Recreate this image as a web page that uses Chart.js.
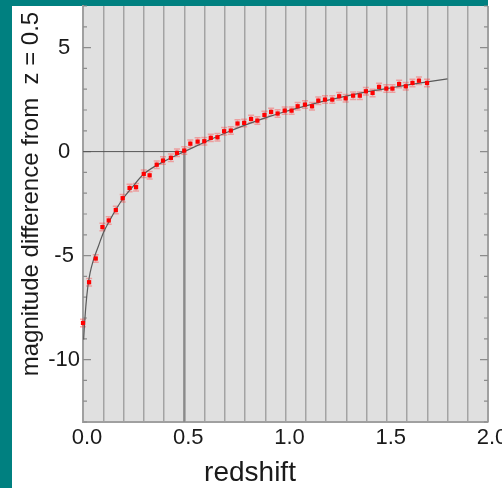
<!DOCTYPE html>
<html>
<head>
<meta charset="utf-8">
<script src="https://cdn.jsdelivr.net/npm/chart.js@4.4.1/dist/chart.umd.min.js"></script>
<style>
  html, body { margin: 0; padding: 0; background: #ffffff; }
  canvas { display: block; }
</style>
</head>
<body>
<canvas id="magChart" width="502" height="488"></canvas>
<script>
// measured points (redshift, magnitude difference from z = 0.5)
const zData = [0.0, 0.03, 0.063, 0.096, 0.127, 0.162, 0.196, 0.23, 0.262, 0.30,
    0.329, 0.364, 0.395, 0.434, 0.464, 0.50, 0.53, 0.566, 0.599, 0.631,
    0.664, 0.697, 0.73, 0.763, 0.796, 0.83, 0.861, 0.896, 0.929, 0.961,
    0.996, 1.03, 1.06, 1.096, 1.131, 1.162, 1.195, 1.231, 1.265, 1.297,
    1.334, 1.367, 1.397, 1.43, 1.462, 1.498, 1.528, 1.561, 1.594, 1.627,
    1.659, 1.699];
const magData = [-8.24, -6.28, -5.14, -3.63, -3.31, -2.81, -2.24, -1.75, -1.71, -1.07,
    -1.14, -0.63, -0.43, -0.30, -0.06, 0.05, 0.38, 0.48, 0.50, 0.66,
    0.69, 0.98, 1.01, 1.35, 1.38, 1.57, 1.49, 1.76, 1.91, 1.83,
    1.97, 1.97, 2.18, 2.26, 2.18, 2.45, 2.50, 2.50, 2.66, 2.56,
    2.69, 2.69, 2.90, 2.82, 3.11, 3.03, 3.03, 3.25, 3.14, 3.30,
    3.41, 3.30];
const magErr = 0.18;

// model curve
const zModel = [0.003, 0.007, 0.014, 0.024, 0.035, 0.052, 0.076, 0.10, 0.134, 0.167,
    0.20, 0.24, 0.30, 0.40, 0.50, 0.60, 0.70, 0.80, 0.90, 1.0,
    1.1, 1.2, 1.3, 1.4, 1.5, 1.6, 1.7, 1.8];
const magModel = [-9.04, -8.4, -7.44, -6.48, -5.83, -5.19, -4.55, -3.91, -3.27, -2.71,
    -2.23, -1.75, -1.08, -0.47, 0.0, 0.45, 0.88, 1.27, 1.62, 1.93,
    2.2, 2.45, 2.67, 2.87, 3.03, 3.2, 3.35, 3.5];

const xTickLabels = ['0.0', '0.5', '1.0', '1.5', '2.0'];
const yTickLabels = [-10, -5, 0, 5];
const refZ = 0.5;

const xTitle = 'redshift';
const yTitle = 'magnitude difference from  z = 0.5';

const FONT = '"Liberation Sans", Arial, sans-serif';

const framePlugin = {
    id: 'frame',
    beforeDraw(chart) {
        const ctx = chart.ctx;
        const a = chart.chartArea;
        ctx.save();
        ctx.fillStyle = '#ffffff';
        ctx.fillRect(0, 0, chart.width, chart.height);
        ctx.fillStyle = '#008080';
        ctx.fillRect(0, 0, 12, chart.height);
        ctx.fillRect(0, 0, a.right, a.top);
        ctx.fillStyle = '#e0e0e0';
        ctx.fillRect(a.left, a.top, a.right - a.left, a.bottom - a.top);
        ctx.restore();
    },
    beforeDatasetsDraw(chart) {
        const ctx = chart.ctx;
        const a = chart.chartArea;
        const xs = chart.scales.x;
        const ys = chart.scales.y;
        ctx.save();
        // right border
        ctx.strokeStyle = '#a0a0a0';
        ctx.lineWidth = 2;
        ctx.beginPath();
        ctx.moveTo(a.right, a.top);
        ctx.lineTo(a.right, a.bottom);
        ctx.stroke();
        // inward y ticks on both sides
        ctx.strokeStyle = '#8c8c8c';
        ctx.lineWidth = 1.2;
        ys.ticks.forEach(t => {
            const y = ys.getPixelForValue(t.value);
            const len = t.value % 5 === 0 ? 8 : 4;
            ctx.beginPath();
            ctx.moveTo(a.left, y);
            ctx.lineTo(a.left + len, y);
            ctx.moveTo(a.right, y);
            ctx.lineTo(a.right - len, y);
            ctx.stroke();
        });
        // reference lines at z = 0.5 and magnitude 0
        const x0 = xs.getPixelForValue(refZ);
        const y0 = ys.getPixelForValue(0);
        ctx.strokeStyle = '#8a8a8a';
        ctx.lineWidth = 2.2;
        ctx.beginPath();
        ctx.moveTo(x0, a.bottom);
        ctx.lineTo(x0, y0);
        ctx.stroke();
        ctx.strokeStyle = '#555555';
        ctx.lineWidth = 1;
        ctx.beginPath();
        ctx.moveTo(a.left, y0);
        ctx.lineTo(x0, y0);
        ctx.stroke();
        // error bars
        ctx.strokeStyle = 'rgba(255, 60, 60, 0.4)';
        ctx.lineWidth = 1.5;
        zData.forEach((z, i) => {
            const x = xs.getPixelForValue(z);
            const yHi = ys.getPixelForValue(magData[i] + magErr);
            const yLo = ys.getPixelForValue(magData[i] - magErr);
            ctx.beginPath();
            ctx.moveTo(x, yHi);
            ctx.lineTo(x, yLo);
            ctx.moveTo(x - 3, yHi);
            ctx.lineTo(x + 3, yHi);
            ctx.moveTo(x - 3, yLo);
            ctx.lineTo(x + 3, yLo);
            ctx.stroke();
        });
        ctx.restore();
    },
    afterDraw(chart) {
        const ctx = chart.ctx;
        ctx.save();
        ctx.fillStyle = '#1a1a1a';
        ctx.textAlign = 'center';
        ctx.textBaseline = 'alphabetic';
        ctx.font = '28px ' + FONT;
        ctx.fillText(xTitle, 250, 481);
        ctx.translate(38, 194);
        ctx.rotate(-Math.PI / 2);
        ctx.font = '24px ' + FONT;
        ctx.fillText(yTitle, 0, 0);
        ctx.restore();
    }
};

new Chart(document.getElementById('magChart'), {
    type: 'scatter',
    data: {
        datasets: [{
            label: 'data',
            data: zData.map((z, i) => ({ x: z, y: magData[i] })),
            pointStyle: 'rect',
            pointRadius: 3,
            backgroundColor: '#ff0000',
            borderWidth: 0,
            showLine: false,
            clip: false
        }, {
            label: 'model',
            data: zModel.map((z, i) => ({ x: z, y: magModel[i] })),
            showLine: true,
            pointRadius: 0,
            borderColor: '#5a5a5a',
            borderWidth: 1.2,
            cubicInterpolationMode: 'monotone',
            fill: false
        }]
    },
    options: {
        responsive: false,
        animation: false,
        layout: { padding: { left: 0, top: 6, right: 14, bottom: 0 } },
        plugins: {
            legend: { display: false },
            tooltip: { enabled: false },
            title: { display: false }
        },
        scales: {
            x: {
                type: 'linear',
                min: 0,
                max: 2,
                afterFit(scale) {
                    scale.height = 66;
                    scale.paddingLeft = 0;
                    scale.paddingRight = 0;
                },
                ticks: {
                    stepSize: 0.1,
                    autoSkip: false,
                    maxRotation: 0,
                    padding: 3,
                    labelOffset: 4,
                    color: '#1a1a1a',
                    font: { family: FONT, size: 22 },
                    callback: (v, i) => (i % 5 === 0 ? xTickLabels[i / 5] : '')
                },
                grid: {
                    color: '#a3a3a3',
                    lineWidth: 1.5,
                    drawTicks: false
                },
                border: { display: true, color: '#a0a0a0', width: 2 }
            },
            y: {
                min: -13,
                max: 7,
                afterFit(scale) {
                    scale.width = 83;
                    scale.paddingTop = 0;
                    scale.paddingBottom = 0;
                },
                ticks: {
                    stepSize: 1,
                    autoSkip: false,
                    padding: 3,
                    crossAlign: 'center',
                    color: '#1a1a1a',
                    font: { family: FONT, size: 22 },
                    callback: v => (yTickLabels.includes(v) ? String(v) : '')
                },
                grid: { display: false, drawTicks: false },
                border: { display: true, color: '#a0a0a0', width: 2 }
            }
        }
    },
    plugins: [framePlugin]
});
</script>
</body>
</html>
